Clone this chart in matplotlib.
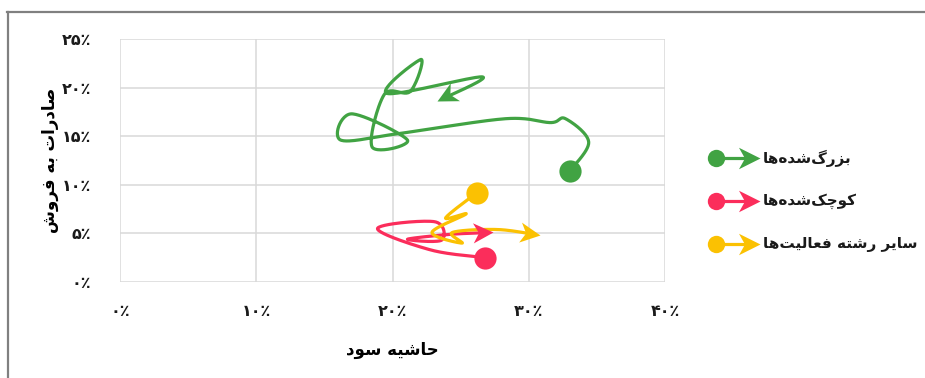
import numpy as np
import matplotlib
matplotlib.use("Agg")
import matplotlib.pyplot as plt
from matplotlib.lines import Line2D
from matplotlib.markers import MarkerStyle
from matplotlib.path import Path
from matplotlib.transforms import Affine2D

plt.rcParams["font.family"] = ["DejaVu Sans"]

# حاشیه سود (%) و صادرات به فروش (%) برای هر گروه، به ترتیب سال
grown_margin = [33.0, 34.4, 32.7, 31.6, 28.3, 20.6, 16.2, 17.0, 21.1, 18.5, 19.4, 21.3, 22.1, 19.6, 26.6, 23.3]
grown_export = [11.4, 14.4, 16.8, 16.4, 16.8, 15.3, 14.6, 17.3, 14.6, 13.9, 19.3, 19.6, 22.9, 19.4, 21.1, 18.6]

shrunk_margin = [26.8, 22.8, 18.9, 23.1, 23.6, 21.1, 24.2, 27.4]
shrunk_export = [2.5, 3.3, 5.5, 6.2, 4.3, 4.4, 4.9, 5.1]

other_margin = [26.2, 23.9, 25.4, 22.9, 25.1, 24.4, 27.7, 30.8]
other_export = [9.2, 6.6, 7.0, 5.1, 4.0, 5.1, 5.4, 4.8]

series_names = ["بزرگ\u200cشده\u200cها", "کوچک\u200cشده\u200cها", "سایر رشته فعالیت\u200cها"]
series_colors = ["#41a343", "#fb2d5b", "#fbc102"]

x_ticks = [0, 10, 20, 30, 40]
y_ticks = [0, 5, 10, 15, 20, 25]
x_title = "حاشیه سود"
y_title = "صادرات به فروش"

# شکل\u200cدهی ساده حروف فارسی (matplotlib خودش حروف را به هم وصل نمی\u200cکند)
FORMS = {
    "ا": ("\uFE8D", "\uFE8E", None, None),
    "ب": ("\uFE8F", "\uFE90", "\uFE91", "\uFE92"),
    "ت": ("\uFE95", "\uFE96", "\uFE97", "\uFE98"),
    "ح": ("\uFEA1", "\uFEA2", "\uFEA3", "\uFEA4"),
    "د": ("\uFEA9", "\uFEAA", None, None),
    "ر": ("\uFEAD", "\uFEAE", None, None),
    "ز": ("\uFEAF", "\uFEB0", None, None),
    "س": ("\uFEB1", "\uFEB2", "\uFEB3", "\uFEB4"),
    "ش": ("\uFEB5", "\uFEB6", "\uFEB7", "\uFEB8"),
    "ص": ("\uFEB9", "\uFEBA", "\uFEBB", "\uFEBC"),
    "ع": ("\uFEC9", "\uFECA", "\uFECB", "\uFECC"),
    "ف": ("\uFED1", "\uFED2", "\uFED3", "\uFED4"),
    "ل": ("\uFEDD", "\uFEDE", "\uFEDF", "\uFEE0"),
    "ه": ("\uFEE9", "\uFEEA", "\uFEEB", "\uFEEC"),
    "و": ("\uFEED", "\uFEEE", None, None),
    "ی": ("\uFBFC", "\uFBFD", "\uFBFE", "\uFBFF"),
    "ک": ("\uFB8E", "\uFB8F", "\uFB90", "\uFB91"),
    "گ": ("\uFB92", "\uFB93", "\uFB94", "\uFB95"),
    "چ": ("\uFB7A", "\uFB7B", "\uFB7C", "\uFB7D"),
}


def dual(ch):
    return ch in FORMS and FORMS[ch][2] is not None


def fa(text):
    out = []
    for i, ch in enumerate(text):
        if ch not in FORMS:
            if ch != "\u200c":
                out.append(ch)
            continue
        prev = text[i - 1] if i > 0 else ""
        nxt = text[i + 1] if i + 1 < len(text) else ""
        join_prev = dual(prev)
        join_next = dual(ch) and nxt in FORMS
        iso, fin, ini, med = FORMS[ch]
        if join_prev and join_next:
            out.append(med)
        elif join_prev:
            out.append(fin)
        elif join_next:
            out.append(ini)
        else:
            out.append(iso)
    return "".join(reversed(out))


FA_DIGITS = str.maketrans("0123456789", "۰۱۲۳۴۵۶۷۸۹")


def pct(v):
    return str(v).translate(FA_DIGITS) + "٪"


def smooth(ax, xs, ys, n=30):
    # منحنی هموار مثل اکسل (بزیه با نقاط کنترل 1/6) در فضای پیکسل
    pts = ax.transData.transform(np.column_stack([xs, ys]))
    P = np.vstack([pts[0], pts, pts[-1]])
    t = np.linspace(0, 1, n)[:, None]
    segs = []
    for i in range(1, len(P) - 2):
        p0, p1, p2, p3 = P[i - 1], P[i], P[i + 1], P[i + 2]
        c1 = p1 + (p2 - p0) / 6
        c2 = p2 - (p3 - p1) / 6
        seg = (1 - t) ** 3 * p1 + 3 * (1 - t) ** 2 * t * c1 + 3 * (1 - t) * t ** 2 * c2 + t ** 3 * p2
        segs.append(seg if i == 1 else seg[1:])
    return np.vstack(segs)


ARROW = Path([(0, 0), (-1, 0.5), (-0.72, 0), (-1, -0.5), (0, 0)],
             [Path.MOVETO, Path.LINETO, Path.LINETO, Path.LINETO, Path.CLOSEPOLY])


def arrow_marker(angle):
    return MarkerStyle(ARROW, transform=Affine2D().rotate(angle))


W, H = 925, 378
fig = plt.figure(figsize=(W / 100, H / 100), dpi=100)
ax = fig.add_axes([120 / W, 1 - 282 / H, 545 / W, 243 / H])
ax.set_xlim(0, 40)
ax.set_ylim(0, 25)
ax.set_xticks(x_ticks)
ax.set_yticks(y_ticks)
ax.set_xticklabels([pct(v) for v in x_ticks], fontsize=11.5, fontweight="bold")
ax.set_yticklabels([pct(v) for v in y_ticks], fontsize=11.5, fontweight="bold")
ax.tick_params(length=0, colors="#1a1a1a")
ax.tick_params(axis="x", pad=16)
ax.tick_params(axis="y", pad=21)
ax.grid(True, color="#d9d9d9", linewidth=1.1)
ax.set_axisbelow(True)
for s in ax.spines.values():
    s.set_visible(False)

ax.set_xlabel(fa(x_title), fontsize=12, fontweight="bold", labelpad=16)
ax.set_ylabel(fa(y_title), fontsize=12, fontweight="bold", labelpad=2)

data = [(grown_margin, grown_export), (shrunk_margin, shrunk_export), (other_margin, other_export)]
inv = ax.transData.inverted()
for (xs, ys), color in zip(data, series_colors):
    curve = smooth(ax, xs, ys)
    end = curve[-1]
    d = end - curve[-2]
    angle = np.arctan2(d[1], d[0])
    keep = np.hypot(*(curve - end).T) > 8
    keep[: len(curve) // 2] = True
    line = inv.transform(curve[keep])
    ax.plot(line[:, 0], line[:, 1], color=color, lw=2.3, solid_capstyle="round", zorder=3)
    ax.plot(xs[-1], ys[-1], marker=arrow_marker(angle), markersize=29, color=color,
            markeredgewidth=0, linestyle="none", zorder=4)
    ax.plot(xs[0], ys[0], marker="o", markersize=16, color=color, markeredgewidth=0,
            linestyle="none", zorder=5)

# راهنما
rows_y = [158, 201, 244]
for name, color, py in zip(series_names, series_colors, rows_y):
    fy = 1 - py / H
    fig.add_artist(Line2D([716 / W, 752 / W], [fy, fy], color=color, lw=2.3,
                          transform=fig.transFigure))
    fig.add_artist(Line2D([760 / W], [fy], marker=arrow_marker(0), markersize=31,
                          color=color, markeredgewidth=0, transform=fig.transFigure))
    fig.add_artist(Line2D([716 / W], [fy], marker="o", markersize=12.5, color=color,
                          markeredgewidth=0, transform=fig.transFigure))
    fig.text(763 / W, fy, fa(name), fontsize=11, fontweight="bold",
             ha="left", va="center", color="#1a1a1a")

# کادر بیرونی
fig.add_artist(Line2D([7 / W, 1], [1 - 12 / H, 1 - 12 / H], color="#808080", lw=1.6,
                      transform=fig.transFigure))
fig.add_artist(Line2D([8 / W, 8 / W], [0, 1 - 12 / H], color="#808080", lw=1.6,
                      transform=fig.transFigure))

fig.savefig("out.png", dpi=100)
